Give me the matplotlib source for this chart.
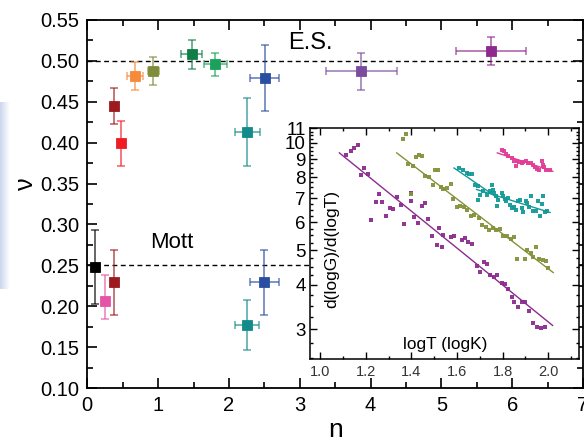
import numpy as np
import matplotlib
matplotlib.use('Agg')
import matplotlib.pyplot as plt
from matplotlib.ticker import MultipleLocator, FixedLocator, FixedFormatter, NullFormatter, FormatStrFormatter

plt.rcParams['font.family'] = ['Liberation Sans', 'DejaVu Sans']

# main panel: exponent nu vs n
n_vals = [0.38, 0.48, 0.67, 0.93, 1.475, 1.806, 2.26, 2.506, 3.87, 5.70,
          0.109, 0.255, 0.383, 2.26, 2.50]
nu_vals = [0.445, 0.399, 0.4815, 0.488, 0.508, 0.496, 0.413, 0.479, 0.487, 0.512,
           0.248, 0.206, 0.229, 0.177, 0.229]
nu_err_lo = [0.022, 0.027, 0.017, 0.017, 0.018, 0.014, 0.041, 0.040, 0.023, 0.0175,
             0.045, 0.022, 0.040, 0.031, 0.040]
nu_err_hi = [0.022, 0.028, 0.017, 0.017, 0.018, 0.014, 0.041, 0.040, 0.023, 0.0175,
             0.045, 0.032, 0.040, 0.031, 0.040]
n_err = [0, 0, 0.115, 0.08, 0.145, 0.165, 0.177, 0.207, 0.50, 0.50,
         0, 0, 0, 0.17, 0.20]
point_colors = ['#9b1b1e', '#ee1c25', '#f7893b', '#7f8c3a', '#107f47', '#1ba25a',
                '#148b8b', '#2b4fa0', '#7b4c9e', '#8e2a8e',
                '#000000', '#e455a7', '#9b1b1e', '#148b8b', '#2b4fa0']

# inset: d(logG)/d(logT) vs logT
purple_x = [1.112, 1.133, 1.147, 1.163, 1.177, 1.193, 1.210, 1.223, 1.242, 1.256, 1.269,
            1.288, 1.305, 1.320, 1.335, 1.352, 1.367, 1.396, 1.398, 1.411, 1.427, 1.445,
            1.461, 1.474, 1.492, 1.514, 1.522, 1.533, 1.540, 1.572, 1.587, 1.621, 1.635,
            1.650, 1.664, 1.686, 1.701, 1.719, 1.730, 1.745, 1.762, 1.777, 1.796, 1.811,
            1.826, 1.840, 1.852, 1.870, 1.884, 1.899, 1.918, 1.936, 1.953, 1.968, 1.987]
purple_y = [9.23, 9.48, 9.66, 9.89, 8.15, 8.49, 8.18, 6.09, 6.83, 7.17, 6.83,
            6.25, 6.57, 6.54, 7.05, 6.69, 5.93, 6.88, 7.24, 6.20, 5.98, 6.66,
            6.78, 6.13, 5.47, 5.18, 5.79, 5.12, 5.52, 5.43, 5.47, 5.35, 5.41,
            5.29, 5.21, 4.53, 4.36, 4.65, 4.57, 4.26, 4.22, 4.26, 4.04, 4.01,
            3.89, 3.71, 3.59, 3.47, 3.59, 3.59, 3.38, 3.13, 3.05, 3.03, 3.05]
olive_x = [1.364, 1.374, 1.383, 1.398, 1.405, 1.420, 1.434, 1.446, 1.458, 1.475, 1.493,
           1.505, 1.516, 1.528, 1.540, 1.555, 1.572, 1.584, 1.598, 1.613, 1.631, 1.643,
           1.660, 1.675, 1.697, 1.711, 1.727, 1.742, 1.757, 1.771, 1.789, 1.804, 1.821,
           1.836, 1.850, 1.865, 1.899, 1.909, 1.924, 1.936, 1.947, 1.962, 1.977, 1.991, 2.001]
olive_y = [10.26, 10.6, 8.73, 7.19, 8.60, 9.14, 9.27, 9.17, 8.09, 8.02, 7.64,
           8.41, 8.41, 7.52, 7.42, 7.47, 7.69, 6.97, 6.61, 6.67, 6.61, 6.49,
           6.22, 6.29, 6.15, 5.87, 5.80, 5.69, 5.77, 5.71, 5.73, 5.49, 5.47,
           5.37, 5.44, 4.72, 4.72, 5.01, 4.90, 4.80, 5.12, 4.72, 4.70, 4.68, 4.45]
teal_x = [1.610, 1.628, 1.643, 1.654, 1.665, 1.679, 1.691, 1.694, 1.701, 1.716, 1.731, 1.745,
          1.752, 1.757, 1.763, 1.771, 1.777, 1.782, 1.796, 1.804, 1.811, 1.815, 1.826, 1.833,
          1.840, 1.851, 1.859, 1.870, 1.877, 1.884, 1.891, 1.903, 1.909, 1.918, 1.924, 1.935,
          1.947, 1.957, 1.965, 1.972, 1.977, 1.987, 1.997]
teal_y = [8.48, 8.41, 8.23, 8.18, 8.18, 7.63, 6.93, 7.55, 7.16, 7.31, 7.16, 7.31,
          7.63, 7.36, 7.23, 7.08, 6.66, 6.93, 7.23, 7.08, 6.96, 6.85, 7.00, 6.70,
          6.56, 6.63, 6.49, 6.85, 6.93, 6.56, 6.42, 6.85, 6.78, 6.63, 7.11, 6.46,
          6.46, 6.85, 6.22, 6.75, 7.08, 6.42, 6.46]
pink_x = [1.796, 1.807, 1.815, 1.826, 1.840, 1.851, 1.859, 1.865, 1.874, 1.884, 1.891, 1.903,
          1.913, 1.924, 1.933, 1.943, 1.950, 1.962, 1.972, 1.977, 1.982, 1.991, 2.009]
pink_y = [9.53, 9.47, 9.33, 9.17, 9.07, 8.88, 8.59, 8.88, 8.82, 8.79, 8.82, 8.88,
          8.79, 8.75, 8.69, 8.56, 8.45, 8.38, 8.88, 8.69, 8.56, 8.41, 8.38]

# fitted lines (end points)
fit_purple = ([1.083, 2.02], [9.37, 3.08])
fit_olive = ([1.335, 2.023], [9.37, 4.33])
fit_teal1 = ([1.587, 1.78], [8.5, 7.0])
fit_teal2 = ([1.686, 2.009], [7.40, 6.38])
fit_pink = ([1.777, 2.021], [9.37, 8.32])

inset_colors = {'purple': '#8b2c8e', 'olive': '#84923a', 'teal': '#139a98', 'pink': '#e23c97'}

fig = plt.figure(figsize=(5.84, 4.44), dpi=100)

# faint blue strip at the left edge (scan artifact)
strip = fig.add_axes([0, 0.35, 0.016, 0.42])
grad = np.linspace(1, 0, 20).reshape(1, -1)
strip.imshow(grad, cmap=matplotlib.colors.LinearSegmentedColormap.from_list('b', ['white', '#ccd6ee']),
             aspect='auto', vmin=0, vmax=1)
strip.axis('off')

ax = fig.add_axes([0.1495, 0.1261, 0.8488, 0.829])

ax.axhline(0.50, color='k', lw=1.0, ls=(0, (3.5, 2.5)), zorder=1)
ax.axhline(0.25, color='k', lw=1.0, ls=(0, (3.5, 2.5)), zorder=1)

for i in range(len(n_vals)):
    c = point_colors[i]
    xe = n_err[i] if n_err[i] > 0 else None
    ax.errorbar(n_vals[i], nu_vals[i], yerr=[[nu_err_lo[i]], [nu_err_hi[i]]], xerr=xe,
                fmt='none', ecolor=c, alpha=0.65, elinewidth=1.3, capsize=3, capthick=1.2, zorder=2)
    ax.plot(n_vals[i], nu_vals[i], 's', color=c, ms=7.2, mec=c, mew=0.6, zorder=3)

ax.text(3.15, 0.5215, 'E.S.', fontsize=17, ha='center', va='center')
ax.text(1.19, 0.2773, 'Mott', fontsize=16, ha='center', va='center')

ax.set_xlim(0, 7)
ax.set_ylim(0.10, 0.55)
ax.xaxis.set_major_locator(MultipleLocator(1))
ax.xaxis.set_minor_locator(MultipleLocator(0.5))
ax.yaxis.set_major_locator(MultipleLocator(0.05))
ax.yaxis.set_minor_locator(MultipleLocator(0.025))
ax.yaxis.set_major_formatter(FormatStrFormatter('%.2f'))
ax.tick_params(which='both', direction='in', top=True, right=True, width=1.2, labelsize=14.5)
ax.tick_params(which='major', length=7)
ax.tick_params(which='minor', length=4)
ax.tick_params(axis='x', pad=6)
ax.tick_params(axis='y', pad=6)
for s in ax.spines.values():
    s.set_linewidth(1.3)

ax.set_xlabel('n', fontsize=19)
ax.xaxis.set_label_coords(0.5, -0.082)
ax.set_ylabel('ν', fontsize=18)
ax.yaxis.set_label_coords(-0.10, 0.556)

# inset
ax_in = fig.add_axes([0.5308, 0.1914, 0.4606, 0.5203], zorder=5)
ax_in.set_facecolor('white')
ax_in.set_yscale('log')

series = [(purple_x, purple_y, 'purple'), (olive_x, olive_y, 'olive'),
          (teal_x, teal_y, 'teal'), (pink_x, pink_y, 'pink')]
for xs, ys, key in series:
    ax_in.plot(xs, ys, 's', color=inset_colors[key], ms=2.8, mew=0, alpha=0.95)

for (fx, fy), key in [(fit_purple, 'purple'), (fit_olive, 'olive'), (fit_teal1, 'teal'),
                      (fit_teal2, 'teal'), (fit_pink, 'pink')]:
    ax_in.plot(fx, fy, '-', color=inset_colors[key], lw=1.0)

ax_in.set_xlim(0.954, 2.136)
ax_in.set_ylim(2.48, 11.0)
ax_in.xaxis.set_major_locator(MultipleLocator(0.2))
ax_in.xaxis.set_minor_locator(MultipleLocator(0.1))
ax_in.xaxis.set_major_formatter(FormatStrFormatter('%.1f'))
yt = [3, 4, 5, 6, 7, 8, 9, 10, 11]
ax_in.yaxis.set_major_locator(FixedLocator(yt))
ax_in.yaxis.set_major_formatter(FixedFormatter([str(v) for v in yt]))
ax_in.yaxis.set_minor_locator(FixedLocator(np.arange(2.5, 11.0, 0.25)))
ax_in.yaxis.set_minor_formatter(NullFormatter())
ax_in.tick_params(which='both', direction='in', top=True, right=True, width=1.0)
ax_in.tick_params(which='major', length=5)
ax_in.tick_params(which='minor', length=2.5)
ax_in.tick_params(axis='x', labelsize=10.5, pad=4.5, labelcolor='#333333')
ax_in.tick_params(axis='y', labelsize=13.5, pad=3)
for s in ax_in.spines.values():
    s.set_linewidth(1.1)

ax_in.text(0.502, 0.061, 'logT (logK)', transform=ax_in.transAxes, fontsize=12.4,
           ha='center', va='center')
ax_in.text(0.081, 0.476, 'd(logG)/d(logT)', transform=ax_in.transAxes, fontsize=12.5,
           ha='center', va='center', rotation=90)

fig.savefig('out.png', dpi=100)
